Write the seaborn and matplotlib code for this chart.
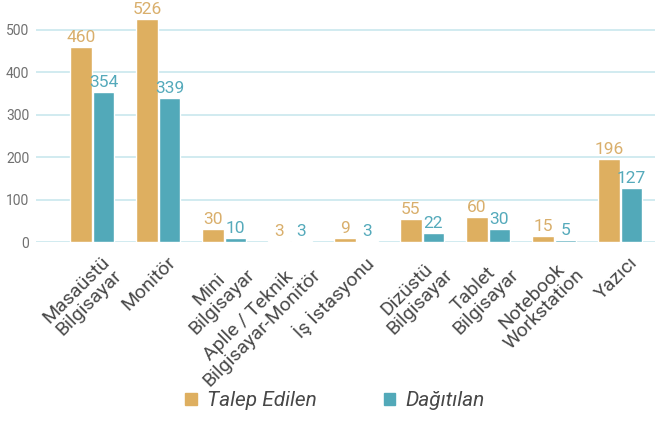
import matplotlib
matplotlib.use("Agg")
import matplotlib.pyplot as plt
import matplotlib.transforms as mtransforms
import seaborn as sns
import pandas as pd

categories = ["Masaüstü\nBilgisayar", "Monitör", "Mini\nBilgisayar",
              "Aplle / Teknik\nBilgisayar-Monitör", "İş İstasyonu",
              "Dizüstü\nBilgisayar", "Tablet\nBilgisayar", "Notebook\nWorkstation",
              "Yazıcı"]
talep = [460, 526, 30, 3, 9, 55, 60, 15, 196]
dagitilan = [354, 339, 10, 3, 3, 22, 30, 5, 127]
series = ["Talep Edilen", "Dağıtılan"]
colors = ["#DEAF60", "#52A9B9"]
label_colors = ["#D9AF6C", "#55AABB"]
yticks = [0, 100, 200, 300, 400, 500]

sns.set_theme(style="white")
plt.rcParams["font.family"] = ["Roboto", "DejaVu Sans"]

df = pd.DataFrame({
    "kategori": categories * 2,
    "deger": talep + dagitilan,
    "seri": [series[0]] * len(categories) + [series[1]] * len(categories),
})

fig = plt.figure(figsize=(6.57, 4.21), dpi=100)
ax = fig.add_axes([0.055, 0.425, 0.942, 0.555])

sns.barplot(data=df, x="kategori", y="deger", hue="seri", palette=colors,
            width=0.68, gap=0.04, ax=ax, legend=False, errorbar=None,
            saturation=1)

for cont, col in zip(ax.containers, label_colors):
    ax.bar_label(cont, padding=1.5, color=col, fontsize=12.5)

ax.set_ylim(0, 550)
ax.set_xlim(-0.85, 8.53)
ax.set_yticks(yticks)
ax.set_yticklabels([str(t) for t in yticks], color="#707070", fontsize=10)
ax.yaxis.grid(True, color="#C9E7EE", linewidth=1.2)
ax.set_axisbelow(True)
for s in ax.spines.values():
    s.set_visible(False)
ax.tick_params(axis="both", length=0, pad=5)
ax.set_xlabel("")
ax.set_ylabel("")
ax.set_xticks(range(len(categories)))
ax.set_xticklabels(categories, rotation=45, ha="right", rotation_mode="anchor",
                   multialignment="center", color="#484848", fontsize=14,
                   linespacing=1.0)
ax.tick_params(axis="x", pad=8)

# nudge the rotated category labels a little to the right
shift = mtransforms.ScaledTranslation(6 / 72, 0, fig.dpi_scale_trans)
for lbl in ax.get_xticklabels():
    lbl.set_transform(lbl.get_transform() + shift)

handles = [plt.Rectangle((0, 0), 1, 1, color=c) for c in colors]
fig.legend(handles, series, loc="center", bbox_to_anchor=(0.51, 0.048),
           ncol=2, frameon=False, prop={"style": "italic", "size": 15},
           labelcolor="#484848", handlelength=0.55, handleheight=0.55,
           handletextpad=0.5, columnspacing=3.2)

fig.savefig("out.png", dpi=100)
